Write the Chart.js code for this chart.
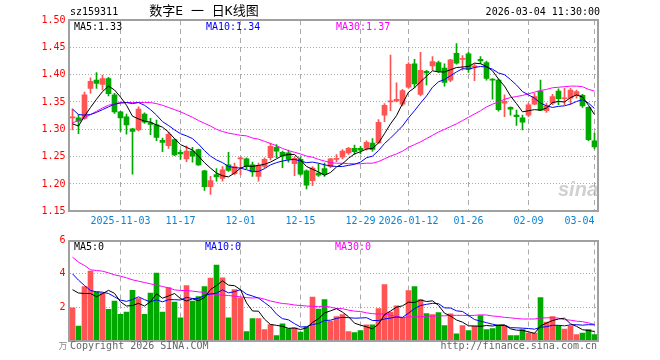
<!DOCTYPE html>
<html><head><meta charset="utf-8">
<script src="https://cdn.jsdelivr.net/npm/chart.js@4.4.1/dist/chart.umd.min.js"></script>
<style>
html,body{margin:0;padding:0;background:#fff;}
#wrap{position:relative;width:660px;height:360px;background:#fff;}
canvas{position:absolute;left:0;top:0;}
</style></head><body>
<div id="wrap">
<canvas id="k" width="660" height="360"></canvas>
<canvas id="v" width="660" height="360"></canvas>
</div>
<script>
// ---------- data ----------
const dates = [
'2025-10-22','2025-10-23','2025-10-24','2025-10-27','2025-10-28','2025-10-29','2025-10-30','2025-10-31',
'2025-11-03','2025-11-04','2025-11-05','2025-11-06','2025-11-07','2025-11-10','2025-11-11','2025-11-12','2025-11-13','2025-11-14',
'2025-11-17','2025-11-18','2025-11-19','2025-11-20','2025-11-21','2025-11-24','2025-11-25','2025-11-26','2025-11-27','2025-11-28',
'2025-12-01','2025-12-02','2025-12-03','2025-12-04','2025-12-05','2025-12-08','2025-12-09','2025-12-10','2025-12-11','2025-12-12',
'2025-12-15','2025-12-16','2025-12-17','2025-12-18','2025-12-19','2025-12-22','2025-12-23','2025-12-24','2025-12-25','2025-12-26',
'2025-12-29','2025-12-30','2025-12-31',
'2026-01-05','2026-01-06','2026-01-07','2026-01-08','2026-01-09','2026-01-12','2026-01-13','2026-01-14','2026-01-15','2026-01-16',
'2026-01-19','2026-01-20','2026-01-21','2026-01-22','2026-01-23','2026-01-26','2026-01-27','2026-01-28','2026-01-29','2026-01-30',
'2026-02-02','2026-02-03','2026-02-04','2026-02-05','2026-02-06','2026-02-09','2026-02-10','2026-02-11','2026-02-12','2026-02-13',
'2026-02-24','2026-02-25','2026-02-26','2026-02-27','2026-03-02','2026-03-03','2026-03-04'];

const open = [
1.321,1.321,1.320,1.375,1.390,1.382,1.393,1.363,1.332,1.323,
1.301,1.299,1.328,1.312,1.308,1.280,1.270,1.281,1.258,1.246,
1.260,1.263,1.224,1.195,1.217,1.210,1.235,1.219,1.246,1.246,
1.235,1.214,1.232,1.248,1.267,1.258,1.257,1.237,1.245,1.224,
1.206,1.220,1.228,1.232,1.245,1.249,1.257,1.265,1.265,1.265,
1.275,1.275,1.326,1.350,1.352,1.346,1.377,1.420,1.364,1.406,
1.416,1.422,1.412,1.390,1.439,1.428,1.438,1.414,1.428,1.422,
1.392,1.390,1.348,1.340,1.326,1.321,1.326,1.346,1.370,1.334,
1.348,1.370,1.356,1.357,1.362,1.362,1.340,1.279];
const high = [
1.337,1.327,1.368,1.394,1.404,1.399,1.395,1.366,1.333,1.328,
1.302,1.341,1.330,1.320,1.317,1.284,1.295,1.283,1.262,1.270,
1.267,1.264,1.225,1.214,1.228,1.232,1.258,1.238,1.249,1.248,
1.240,1.238,1.248,1.275,1.272,1.260,1.262,1.250,1.249,1.226,
1.232,1.237,1.238,1.247,1.254,1.263,1.267,1.271,1.269,1.279,
1.283,1.318,1.347,1.436,1.385,1.373,1.422,1.428,1.441,1.408,
1.433,1.425,1.420,1.428,1.457,1.435,1.441,1.420,1.433,1.425,
1.393,1.392,1.363,1.341,1.335,1.326,1.348,1.366,1.390,1.348,
1.364,1.374,1.375,1.375,1.372,1.364,1.341,1.293];
const low = [
1.299,1.292,1.318,1.366,1.375,1.372,1.361,1.329,1.296,1.291,
1.218,1.297,1.311,1.290,1.279,1.259,1.265,1.252,1.245,1.241,
1.240,1.234,1.188,1.181,1.205,1.205,1.223,1.217,1.217,1.228,
1.214,1.205,1.229,1.244,1.248,1.230,1.240,1.215,1.216,1.191,
1.197,1.214,1.214,1.230,1.241,1.246,1.254,1.254,1.255,1.262,
1.260,1.274,1.314,1.334,1.350,1.343,1.375,1.376,1.361,1.381,
1.408,1.404,1.379,1.387,1.419,1.408,1.404,1.389,1.420,1.390,
1.355,1.333,1.323,1.326,1.307,1.299,1.323,1.345,1.334,1.331,
1.345,1.345,1.345,1.346,1.357,1.340,1.279,1.264];
const close = [
1.323,1.315,1.363,1.388,1.384,1.393,1.365,1.332,1.321,1.308,
1.296,1.337,1.313,1.309,1.285,1.276,1.291,1.253,1.255,1.260,
1.251,1.235,1.195,1.206,1.213,1.226,1.225,1.232,1.248,1.232,
1.222,1.234,1.245,1.269,1.260,1.251,1.245,1.247,1.218,1.198,
1.229,1.216,1.218,1.246,1.247,1.260,1.265,1.259,1.262,1.276,
1.263,1.313,1.344,1.352,1.355,1.371,1.419,1.383,1.408,1.403,
1.424,1.406,1.386,1.427,1.421,1.430,1.410,1.416,1.425,1.393,
1.390,1.336,1.351,1.337,1.323,1.313,1.345,1.360,1.335,1.343,
1.360,1.356,1.357,1.372,1.369,1.343,1.281,1.268];

const ma5 = [
1.310,1.306,1.324,1.340,1.355,1.369,1.379,1.372,1.359,1.344,
1.324,1.319,1.315,1.313,1.308,1.304,1.295,1.283,1.272,1.267,
1.262,1.251,1.239,1.229,1.220,1.215,1.213,1.220,1.229,1.233,
1.232,1.234,1.236,1.240,1.246,1.252,1.254,1.254,1.244,1.232,
1.227,1.222,1.216,1.221,1.231,1.237,1.247,1.255,1.259,1.264,
1.265,1.275,1.292,1.310,1.325,1.347,1.368,1.376,1.387,1.397,
1.407,1.405,1.405,1.409,1.413,1.414,1.415,1.421,1.420,1.415,
1.407,1.392,1.379,1.361,1.347,1.332,1.334,1.336,1.335,1.339,
1.349,1.351,1.350,1.358,1.363,1.359,1.344,1.327];
const ma10 = [
1.337,1.327,1.326,1.327,1.331,1.336,1.341,1.346,1.348,1.349,
1.347,1.349,1.344,1.336,1.326,1.314,1.307,1.299,1.292,1.288,
1.283,1.273,1.261,1.251,1.244,1.239,1.232,1.230,1.229,1.226,
1.223,1.223,1.228,1.235,1.239,1.242,1.244,1.245,1.242,1.239,
1.240,1.238,1.235,1.233,1.232,1.232,1.234,1.236,1.240,1.248,
1.251,1.261,1.274,1.284,1.295,1.306,1.321,1.334,1.348,1.361,
1.377,1.387,1.391,1.398,1.405,1.411,1.410,1.413,1.415,1.414,
1.410,1.403,1.400,1.391,1.381,1.369,1.363,1.357,1.348,1.343,
1.340,1.342,1.343,1.346,1.351,1.354,1.348,1.338];
const ma30 = [
1.312,1.316,1.321,1.327,1.333,1.339,1.344,1.347,1.349,1.349,
1.349,1.349,1.349,1.349,1.347,1.344,1.340,1.336,1.332,1.327,
1.322,1.316,1.311,1.306,1.300,1.296,1.293,1.291,1.289,1.288,
1.284,1.282,1.278,1.274,1.270,1.265,1.261,1.258,1.255,1.251,
1.249,1.245,1.242,1.239,1.238,1.238,1.237,1.237,1.237,1.238,
1.238,1.241,1.246,1.251,1.255,1.260,1.267,1.272,1.277,1.283,
1.289,1.295,1.300,1.305,1.310,1.316,1.322,1.328,1.334,1.341,
1.346,1.350,1.355,1.358,1.360,1.362,1.365,1.368,1.371,1.373,
1.376,1.377,1.378,1.379,1.379,1.378,1.373,1.370];

const volume = [
1.96,0.86,3.24,4.16,2.92,2.86,1.87,2.36,1.57,1.70,
3.01,2.52,1.57,2.85,4.05,1.71,3.18,2.30,1.36,3.30,
2.36,2.64,3.24,3.74,4.52,3.76,1.36,3.06,2.56,0.54,
1.32,1.32,0.66,0.96,0.30,1.00,0.72,0.76,0.50,0.80,
2.60,1.88,2.46,1.16,1.44,1.56,0.54,0.48,0.60,0.94,
0.94,1.92,3.36,1.70,2.08,1.36,3.00,3.24,2.46,1.62,
1.56,1.68,0.90,1.60,0.40,0.90,0.60,0.86,1.50,0.66,
0.72,0.90,0.90,0.30,0.30,0.66,0.44,0.44,2.58,1.10,
1.44,0.90,0.68,0.86,0.36,0.44,0.66,0.36];
const volMa5 = [
3.05,2.85,2.82,2.82,2.63,2.81,3.01,2.83,2.32,2.07,
2.10,2.23,2.07,2.33,2.80,2.54,2.67,2.82,2.52,2.37,
2.50,2.39,2.58,3.06,3.30,3.58,3.32,3.29,3.05,2.26,
1.77,1.76,1.28,0.96,0.91,0.85,0.73,0.75,0.66,0.76,
1.08,1.31,1.65,1.78,1.91,1.70,1.43,1.04,0.92,0.82,
0.70,0.98,1.55,1.77,2.00,2.08,2.30,2.28,2.43,2.34,
2.38,2.11,1.64,1.47,1.23,1.10,0.88,0.87,0.85,0.90,
0.87,0.93,0.94,0.70,0.62,0.61,0.52,0.43,0.88,1.04,
1.20,1.29,1.34,1.00,0.85,0.65,0.60,0.54];
const volMa10 = [
4.00,3.62,3.30,3.00,2.92,2.90,2.82,2.62,2.42,2.35,
2.46,2.62,2.45,2.32,2.44,2.32,2.45,2.45,2.43,2.59,
2.52,2.53,2.70,2.79,2.84,3.04,2.86,2.93,3.05,2.78,
2.67,2.54,2.28,2.01,1.58,1.31,1.24,1.01,0.81,0.83,
0.96,1.02,1.20,1.22,1.33,1.39,1.37,1.34,1.35,1.37,
1.20,1.20,1.29,1.35,1.41,1.39,1.64,1.91,2.10,2.17,
2.23,2.21,1.96,1.95,1.78,1.74,1.50,1.26,1.16,1.07,
0.98,0.90,0.90,0.77,0.76,0.74,0.72,0.68,0.79,0.83,
0.91,0.91,0.88,0.94,0.95,0.92,0.95,0.94];
const volMa30 = [
5.00,4.70,4.50,4.24,4.20,4.16,4.06,3.94,3.86,3.76,
3.64,3.56,3.48,3.40,3.32,3.24,3.16,3.04,3.00,3.00,
2.96,2.92,2.88,2.80,2.76,2.72,2.70,2.66,2.62,2.57,
2.55,2.57,2.48,2.37,2.29,2.22,2.19,2.13,2.10,2.07,
2.05,2.03,2.06,2.00,1.92,1.91,1.82,1.76,1.74,1.66,
1.61,1.59,1.59,1.52,1.44,1.36,1.42,1.42,1.42,1.46,
1.46,1.48,1.48,1.51,1.51,1.51,1.50,1.51,1.54,1.53,
1.47,1.44,1.39,1.36,1.32,1.29,1.29,1.29,1.35,1.36,
1.37,1.34,1.25,1.22,1.16,1.13,1.06,0.96];

const priceTicks = [1.15,1.20,1.25,1.30,1.35,1.40,1.45,1.50];
const volTicks = [0,2,4,6];
const tickDates = ['2025-11-03','2025-11-17','2025-12-01','2025-12-15','2025-12-29','2026-01-12','2026-01-26','2026-02-09','2026-03-04'];
const tickLabels = ['2025-11-03','11-17','12-01','12-15','12-29','2026-01-12','01-26','02-09','03-04'];

// ---------- styling ----------
const RED = '#ff5454', GREEN = '#00a800', GRID = '#aaaaaa', FRAME = '#a0a0a0';
const MONO = '"DejaVu Sans Mono", "Liberation Mono", monospace';
const tickIdx = new Set(tickDates.map(d => dates.indexOf(d)));
const candleColor = close.map((c, i) => c >= open[i] ? RED : GREEN);

function xAxis() {
  return {
    type: 'category', offset: true,
    grid: { offset: false, drawTicks: false, lineWidth: 1,
      color: c => tickIdx.has(c.index) ? GRID : 'rgba(0,0,0,0)' },
    border: { display: false, dash: [5, 4] },
    ticks: { display: false, autoSkip: false },
    afterFit: s => { s.height = 0; }
  };
}
function yAxis(min, max, ticks, cb) {
  return {
    min, max,
    afterBuildTicks: s => { s.ticks = ticks.map(v => ({ value: v })); },
    grid: { drawTicks: false, lineWidth: 1,
      color: c => (c.tick && c.tick.value > min + 1e-9 && c.tick.value < max - 1e-9) ? GRID : 'rgba(0,0,0,0)' },
    border: { display: false, dash: [1, 2] },
    ticks: { color: '#ff0000', padding: 4, font: { family: MONO, size: 10 }, callback: cb },
    afterFit: s => { s.width = 69.5; }
  };
}
function text(ctx, str, x, y, color, align, font) {
  ctx.save();
  ctx.font = font || ('10px ' + MONO);
  ctx.fillStyle = color; ctx.textAlign = align || 'left'; ctx.textBaseline = 'middle';
  ctx.fillText(str, x, y);
  ctx.restore();
}
function frame(chart) {
  const a = chart.chartArea, ctx = chart.ctx;
  ctx.save(); ctx.strokeStyle = FRAME; ctx.lineWidth = 2;
  ctx.strokeRect(Math.round(a.left) - 1, Math.round(a.top), Math.round(a.right) - Math.round(a.left) + 1, Math.round(a.bottom - a.top));
  ctx.restore();
}

const kDecor = {
  id: 'kDecor',
  afterDraw(chart) {
    const ctx = chart.ctx, xs = chart.scales.x, a = chart.chartArea;
    frame(chart);
    text(ctx, 'sz159311', 70, 12, '#000');
    text(ctx, '数字E 一 日K线图', 204, 12, '#000', 'center', '13px "DejaVu Sans Mono", "Noto Sans CJK SC"');
    text(ctx, '2026-03-04 11:30:00', 600, 12, '#000', 'right');
    text(ctx, 'MA5:' + ma5[ma5.length - 1].toFixed(2), 74, 27, '#000');
    text(ctx, 'MA10:' + ma10[ma10.length - 1].toFixed(2), 206, 27, '#0000ff');
    text(ctx, 'MA30:' + ma30[ma30.length - 1].toFixed(2), 336, 27, '#ff00ff');
    ctx.save();
    ctx.font = '10px ' + MONO;
    tickDates.forEach((d, k) => {
      const px = xs.getPixelForValue(dates.indexOf(d));
      const w = ctx.measureText(tickLabels[k]).width;
      let cx = px;
      if (cx + w / 2 > a.right - 3) cx = a.right - 3 - w / 2;
      ctx.fillStyle = '#0a84d4'; ctx.textAlign = 'center'; ctx.textBaseline = 'middle';
      ctx.fillText(tickLabels[k], cx, 221);
    });
    ctx.restore();
    text(ctx, 'sina', 578, 190, 'rgba(170,170,170,0.55)', 'center', 'italic bold 20px "Liberation Sans", sans-serif');
  }
};
const vDecor = {
  id: 'vDecor',
  afterDraw(chart) {
    const ctx = chart.ctx;
    frame(chart);
    text(ctx, 'MA5:0', 74, 247, '#000');
    text(ctx, 'MA10:0', 205, 247, '#0000ff');
    text(ctx, 'MA30:0', 335, 247, '#ff00ff');
    text(ctx, 'Copyright 2026 SINA.COM', 70, 346, '#666');
    text(ctx, 'http://finance.sina.com.cn', 597, 346, '#666', 'right');
    text(ctx, '万', 63, 346, '#888', 'center', '9px "Noto Sans CJK SC"');
  }
};

const lineDs = (label, data, color) => ({
  type: 'line', label, data, borderColor: color, borderWidth: 1,
  pointRadius: 0, tension: 0, fill: false, order: 0
});

new Chart(document.getElementById('k'), {
  type: 'bar',
  data: {
    labels: dates,
    datasets: [
      { label: 'wick', data: low.map((l, i) => [l, high[i]]), backgroundColor: candleColor,
        barThickness: 1, grouped: false, order: 2, minBarLength: 1 },
      { label: 'body', data: open.map((o, i) => [o, close[i]]), backgroundColor: candleColor,
        barThickness: 5, grouped: false, order: 1, minBarLength: 1 },
      lineDs('MA5', ma5, '#000000'),
      lineDs('MA10', ma10, '#0000ff'),
      lineDs('MA30', ma30, '#ff00ff')
    ]
  },
  options: {
    responsive: false, animation: false, devicePixelRatio: 1,
    layout: { padding: { left: 0, right: 62.5, top: 20, bottom: 148.7 } },
    plugins: { legend: { display: false }, tooltip: { enabled: false } },
    scales: {
      x: xAxis(),
      y: yAxis(1.15, 1.50, priceTicks, v => Number(v).toFixed(2))
    }
  },
  plugins: [kDecor]
});

new Chart(document.getElementById('v'), {
  type: 'bar',
  data: {
    labels: dates,
    datasets: [
      { label: 'vol', data: volume, backgroundColor: candleColor, barThickness: 5, order: 1 },
      lineDs('MA5', volMa5, '#000000'),
      lineDs('MA10', volMa10, '#0000ff'),
      lineDs('MA30', volMa30, '#ff00ff')
    ]
  },
  options: {
    responsive: false, animation: false, devicePixelRatio: 1,
    layout: { padding: { left: 0, right: 62.5, top: 240.5, bottom: 19.5 } },
    plugins: { legend: { display: false }, tooltip: { enabled: false } },
    scales: {
      x: xAxis(),
      y: yAxis(0, 6, volTicks, v => v === 0 ? '' : String(v))
    }
  },
  plugins: [vDecor]
});
</script>
</body></html>
